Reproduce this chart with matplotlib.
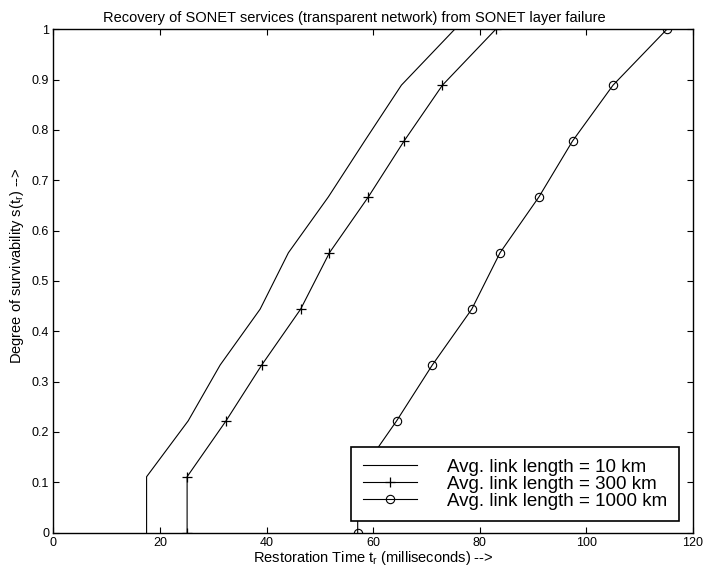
import numpy as np
import matplotlib
matplotlib.use('Agg')
import matplotlib.pyplot as plt

plt.rcParams['font.family'] = ['Liberation Sans', 'DejaVu Sans']
plt.rcParams['mathtext.default'] = 'regular'

# 生存度 (0, 1/9, ..., 1)
s_levels = [0, 0.111, 0.222, 0.333, 0.444, 0.556, 0.667, 0.778, 0.889, 1.0]

# 恢复时间 (ms)
t_10km = [17.5, 17.5, 25.3, 31.3, 38.8, 44.1, 51.6, 58.4, 65.3, 75.3]
s_10km = [0, 0.111, 0.222, 0.333, 0.444, 0.556, 0.667, 0.778, 0.889, 1.0]
t_300km = [25.1, 25.1, 32.4, 39.1, 46.4, 51.8, 59.1, 65.8, 73.0, 83.0]
t_1000km = [57.1, 57.1, 64.4, 71.1, 78.5, 83.8, 91.1, 97.4, 105.0, 115.1]

labels = ['Avg. link length = 10 km',
          'Avg. link length = 300 km',
          'Avg. link length = 1000 km']

fig = plt.figure(figsize=(7.05, 5.73), dpi=100)
ax = fig.add_axes([0.0756, 0.0705, 0.9074, 0.8784])

ax.plot(t_10km, s_10km, 'k-', lw=0.8, label=labels[0])
ax.plot(t_300km, s_levels, 'k-', lw=0.8, marker='+', ms=7, mew=0.9,
        label=labels[1])
ax.plot(t_1000km, s_levels, 'k-', lw=0.8, marker='o', ms=6, mew=0.8,
        mfc='none', label=labels[2])

ax.set_xlim(0, 120)
ax.set_ylim(0, 1)
ax.set_xticks(np.arange(0, 121, 20))
ax.set_yticks(np.arange(0, 1.01, 0.1))
ax.set_yticklabels(['0', '0.1', '0.2', '0.3', '0.4', '0.5', '0.6', '0.7',
                    '0.8', '0.9', '1'])
ax.tick_params(direction='in', top=True, right=True, length=4, width=0.8,
               labelsize=9, pad=3)
for sp in ax.spines.values():
    sp.set_linewidth(1.0)

ax.set_title('Recovery of SONET services (transparent network) from SONET layer failure',
             fontsize=10.5, pad=5, x=0.47)
ax.set_xlabel('Restoration Time t$_r$ (milliseconds) -->', fontsize=10.5, labelpad=0)
ax.set_ylabel('Degree of survivability s(t$_r$) -->', fontsize=10.5, labelpad=1)
ax.yaxis.set_label_coords(-0.043, 0.53)

leg = ax.legend(loc='lower left', bbox_to_anchor=(0.466, 0.023), fontsize=13.5,
                frameon=True, fancybox=False, edgecolor='black', framealpha=1,
                handlelength=2.9, handletextpad=1.6, borderpad=0.6,
                labelspacing=0.0, borderaxespad=0)
leg.get_frame().set_linewidth(1.2)

fig.savefig('out.png', dpi=100)
